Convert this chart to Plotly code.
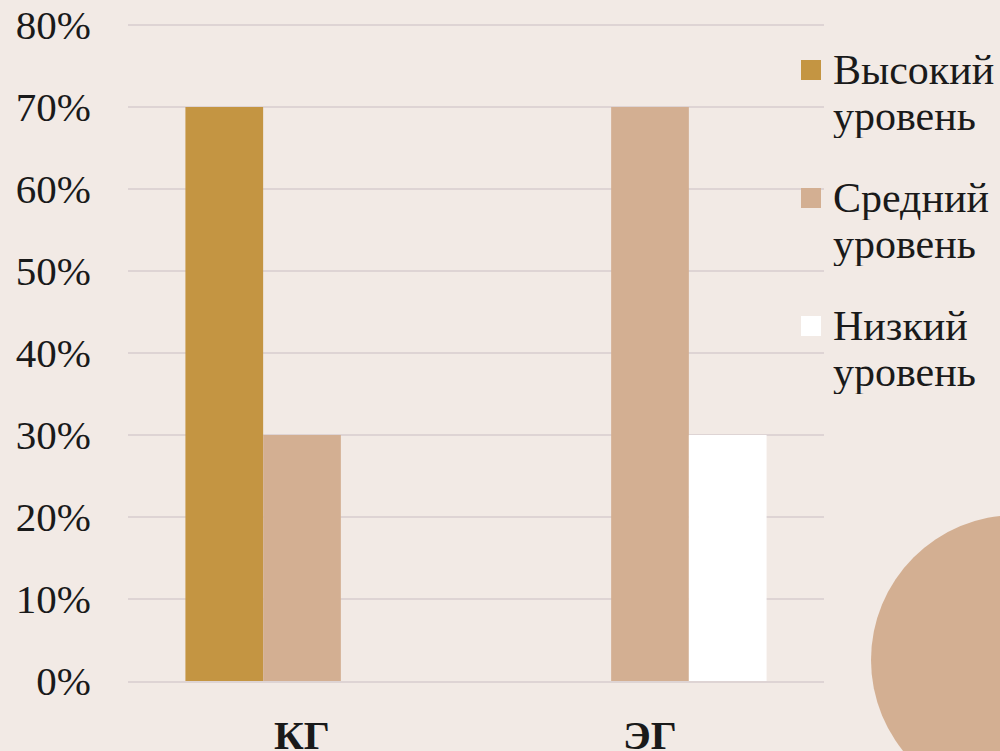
import plotly.graph_objects as go

categories = ["КГ", "ЭГ"]
series_names = ["Высокий уровень", "Средний уровень", "Низкий уровень"]
high = [0.70, 0.0]
medium = [0.30, 0.70]
low = [0.0, 0.30]
colors = ["#C49542", "#D3AF92", "#FFFFFF"]
tick_vals = [0, 0.1, 0.2, 0.3, 0.4, 0.5, 0.6, 0.7, 0.8]

BG = "#F2EAE5"
FONT = "Liberation Serif, Times New Roman, serif"

fig = go.Figure()
for name, vals, col in zip(series_names, [high, medium, low], colors):
    fig.add_trace(go.Bar(x=categories, y=vals, name=name, marker=dict(color=col, line=dict(width=0)),
                         showlegend=False))

# plot area geometry (pixels)
L, R, T, B = 128, 176, 21, 70
W, H = 1000, 751
pw, ph = W - L - R, H - T - B
PX_PER_UNIT = 820.0  # pixels per 100%

def px_x(px):
    return (px - L) / pw

def px_y(py):
    return (H - B - py) / ph

# decorative circle bottom right
fig.add_shape(type="circle", xref="paper", yref="paper",
              x0=px_x(871), x1=px_x(1161), y0=px_y(805), y1=px_y(515),
              fillcolor="#D3AF92", line=dict(width=0), layer="below")

# legend drawn manually
leg_top = [70, 198, 326]
for i, (name, col) in enumerate(zip(series_names, colors)):
    y0 = leg_top[i]
    fig.add_shape(type="rect", xref="paper", yref="paper",
                  x0=px_x(801), x1=px_x(821), y0=px_y(y0 - 10), y1=px_y(y0 + 10),
                  fillcolor=col, line=dict(width=0))
    words = name.split(" ")
    for j, w in enumerate(words):
        fig.add_annotation(xref="paper", yref="paper", x=px_x(831), y=px_y(y0 + j * 46),
                           text=w, showarrow=False, xanchor="left", yanchor="middle",
                           height=44, valign="middle",
                           font=dict(family=FONT, size=42, color="#1a1a1a"))

fig.update_layout(
    width=W, height=H,
    margin=dict(l=L, r=R, t=T, b=B, autoexpand=False),
    paper_bgcolor=BG, plot_bgcolor=BG,
    barmode="group", bargap=0.33, bargroupgap=0,
    font=dict(family=FONT, size=41, color="#1a1a1a"),
    showlegend=False,
)
fig.update_yaxes(range=[0, ph / PX_PER_UNIT], tickvals=tick_vals, tickformat=".0%",
                 automargin=False,
                 showgrid=True, gridcolor="#DED4D4", gridwidth=2, zeroline=False,
                 showline=False, ticks="", ticklabelstandoff=36,
                 tickfont=dict(family=FONT, size=41, color="#1a1a1a"))
fig.update_xaxes(showgrid=False, showline=True, linecolor="#DED4D4", linewidth=2,
                 automargin=False,
                 ticks="", ticklabelstandoff=17,
                 tickfont=dict(family=FONT, size=41, color="#1a1a1a", weight="bold"))

fig.write_html("out.html", config={"displayModeBar": False},
               post_script="document.body.style.margin='0';document.body.style.background='%s';" % BG)
